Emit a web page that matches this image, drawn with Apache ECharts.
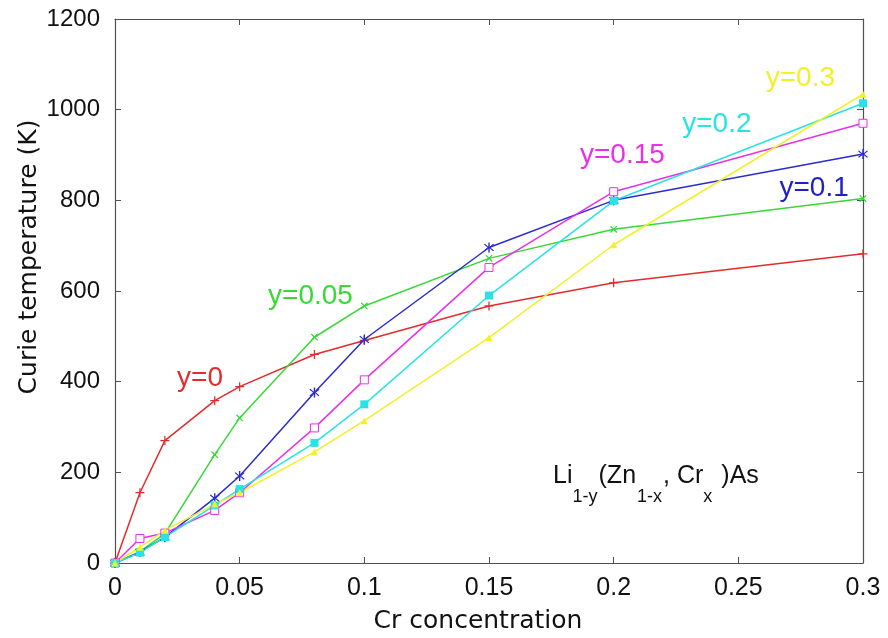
<!DOCTYPE html>
<html>
<head>
<meta charset="utf-8">
<script src="https://cdn.jsdelivr.net/npm/echarts@6/dist/echarts.min.js"></script>
<style>
  html, body { margin: 0; padding: 0; background: #fff; }
  #chart { width: 888px; height: 638px; }
</style>
</head>
<body>
<div id="chart"></div>
<script>
// Cr concentration x
var crConc = [0, 0.01, 0.02, 0.04, 0.05, 0.08, 0.1, 0.15, 0.2, 0.3]
// Curie temperature (K) per Li deficiency y
var tcY0 = [0, 155, 270, 358, 389, 460, 491, 567, 618, 682]
var tcY005 = [0, 25, 65, 239, 320, 498, 567, 672, 736, 804]
var tcY01 = [0, 24, 57, 143, 192, 376, 493, 696, 800, 902]
var tcY015 = [0, 54, 66, 116, 155, 298, 404, 652, 819, 970]
var tcY02 = [0, 23, 57, 127, 163, 265, 350, 590, 799, 1014]
var tcY03 = [0, 35, 72, 130, 155, 245, 314, 497, 702, 1034]
var yTicks = [0, 200, 400, 600, 800, 1000, 1200]
var xTicks = [0, 0.05, 0.1, 0.15, 0.2, 0.25, 0.3]

var plusPath = 'path://M4.3,0H5.7V4.3H10V5.7H5.7V10H4.3V5.7H0V4.3H4.3Z'
var starPath = 'path://M4.4,0H5.6V4.2L8.5,1.3L9.3,2.1L6.2,5L9.3,7.9L8.5,8.7L5.6,5.8V10H4.4V5.8L1.5,8.7L0.7,7.9L3.8,5L0.7,2.1L1.5,1.3L4.4,4.2Z'

function pairs (vals) {
  return crConc.map(function (x, i) { return [x, vals[i]] })
}

function makeSeries (name, vals, color, symbol, size, fill, rotate) {
  return {
    name: name,
    type: 'line',
    data: pairs(vals),
    symbol: symbol,
    symbolSize: size,
    symbolRotate: rotate || 0,
    showAllSymbol: true,
    lineStyle: { color: color, width: 1.5 },
    itemStyle: {
      color: fill || color,
      borderColor: color,
      borderWidth: fill ? 1 : 0
    },
    emphasis: { disabled: true },
    z: 3
  }
}

var chart = echarts.init(document.getElementById('chart'))
var tickFont = 'Liberation Sans'
var axisCol = '#505050'

chart.setOption({
  backgroundColor: '#fff',
  animation: false,
  grid: { left: 115, right: 25, top: 19, bottom: 75 },
  xAxis: [{
    type: 'value',
    min: 0, max: 0.3, interval: 0.05,
    axisLine: { lineStyle: { color: axisCol, width: 1.2 } },
    axisTick: { inside: true, length: 6, lineStyle: { color: axisCol } },
    axisLabel: {
      fontFamily: tickFont, fontSize: 25, color: '#111', margin: 13,
      formatter: function (v) { return xTicks.indexOf(+v.toFixed(2)) >= 0 ? String(+v.toFixed(2)) : '' }
    },
    splitLine: { show: false }
  }, {
    type: 'value', position: 'top',
    min: 0, max: 0.3, interval: 0.05,
    axisLine: { show: true, onZero: false, lineStyle: { color: axisCol, width: 1.2 } },
    axisTick: { inside: true, length: 6, lineStyle: { color: axisCol } },
    axisLabel: { show: false },
    splitLine: { show: false }
  }],
  yAxis: [{
    type: 'value',
    min: 0, max: 1200, interval: 200,
    axisLine: { show: true, lineStyle: { color: axisCol, width: 1.2 } },
    axisTick: { show: true, inside: true, length: 6, lineStyle: { color: axisCol } },
    axisLabel: {
      fontFamily: tickFont, fontSize: 24, color: '#111', margin: 15,
      formatter: function (v) { return yTicks.indexOf(v) >= 0 ? String(v) : '' }
    },
    splitLine: { show: false }
  }, {
    type: 'value', position: 'right',
    min: 0, max: 1200, interval: 200,
    axisLine: { show: true, onZero: false, lineStyle: { color: axisCol, width: 1.2 } },
    axisTick: { show: true, inside: true, length: 6, lineStyle: { color: axisCol } },
    axisLabel: { show: false },
    splitLine: { show: false }
  }],
  series: [
    makeSeries('y=0', tcY0, '#e42c2c', plusPath, 9),
    makeSeries('y=0.05', tcY005, '#36d936', plusPath, 9, null, 45),
    makeSeries('y=0.1', tcY01, '#2b2bd0', starPath, 10),
    makeSeries('y=0.15', tcY015, '#ea2fea', 'rect', 8, '#fff'),
    makeSeries('y=0.2', tcY02, '#27e3e3', 'rect', 8),
    makeSeries('y=0.3', tcY03, '#f2f02a', 'triangle', 7)
  ]
})

// curve labels placed at data coordinates
var notes = [
  { text: 'y=0', at: [0.0249, 407], color: '#e42c2c' },
  { text: 'y=0.05', at: [0.0614, 588], color: '#36d936' },
  { text: 'y=0.1', at: [0.2665, 826], color: '#2020c8' },
  { text: 'y=0.15', at: [0.1865, 900], color: '#ea2fea' },
  { text: 'y=0.2', at: [0.2275, 968], color: '#27e3e3' },
  { text: 'y=0.3', at: [0.261, 1070], color: '#f2f02a' }
]
var graphics = notes.map(function (n) {
  var p = chart.convertToPixel({ gridIndex: 0 }, n.at)
  return {
    type: 'text', x: p[0], y: p[1], z: 10,
    style: {
      text: n.text, fill: n.color, font: '28px "Liberation Sans"',
      verticalAlign: 'middle'
    }
  }
})

// axis titles
graphics.push({
  type: 'text', x: 478, y: 634, z: 10,
  style: { text: 'Cr concentration', font: '25px "DejaVu Sans"', fill: '#111', align: 'center', verticalAlign: 'bottom' }
})
graphics.push({
  type: 'text', x: 29, y: 257, z: 10, rotation: Math.PI / 2,
  style: { text: 'Curie temperature (K)', font: '25px "DejaVu Sans"', fill: '#111', align: 'center', verticalAlign: 'middle' }
})

// formula Li_{1-y}(Zn_{1-x}, Cr_x )As, laid out piece by piece
var ctx = document.createElement('canvas').getContext('2d')
var parts = [['Li', 0, 0], ['1-y', 1, 0], ['(Zn', 0, 0], ['1-x', 1, 1], [', Cr', 0, 0], ['x', 1, 0], [')As', 0, 8]]
var fp = chart.convertToPixel({ gridIndex: 0 }, [0.1757, 163])
var cx = fp[0]
var base = fp[1]
parts.forEach(function (pt) {
  var f = pt[1] ? '18px "Liberation Sans"' : '25px "Liberation Sans"'
  ctx.font = f
  cx += pt[2]
  graphics.push({
    type: 'text', x: cx, y: pt[1] ? base + 17 : base, z: 10,
    style: { text: pt[0], font: f, fill: '#111', verticalAlign: 'bottom' }
  })
  cx += ctx.measureText(pt[0]).width + (pt[1] ? 1 : 0)
})
chart.setOption({ graphic: graphics })
</script>
</body>
</html>
